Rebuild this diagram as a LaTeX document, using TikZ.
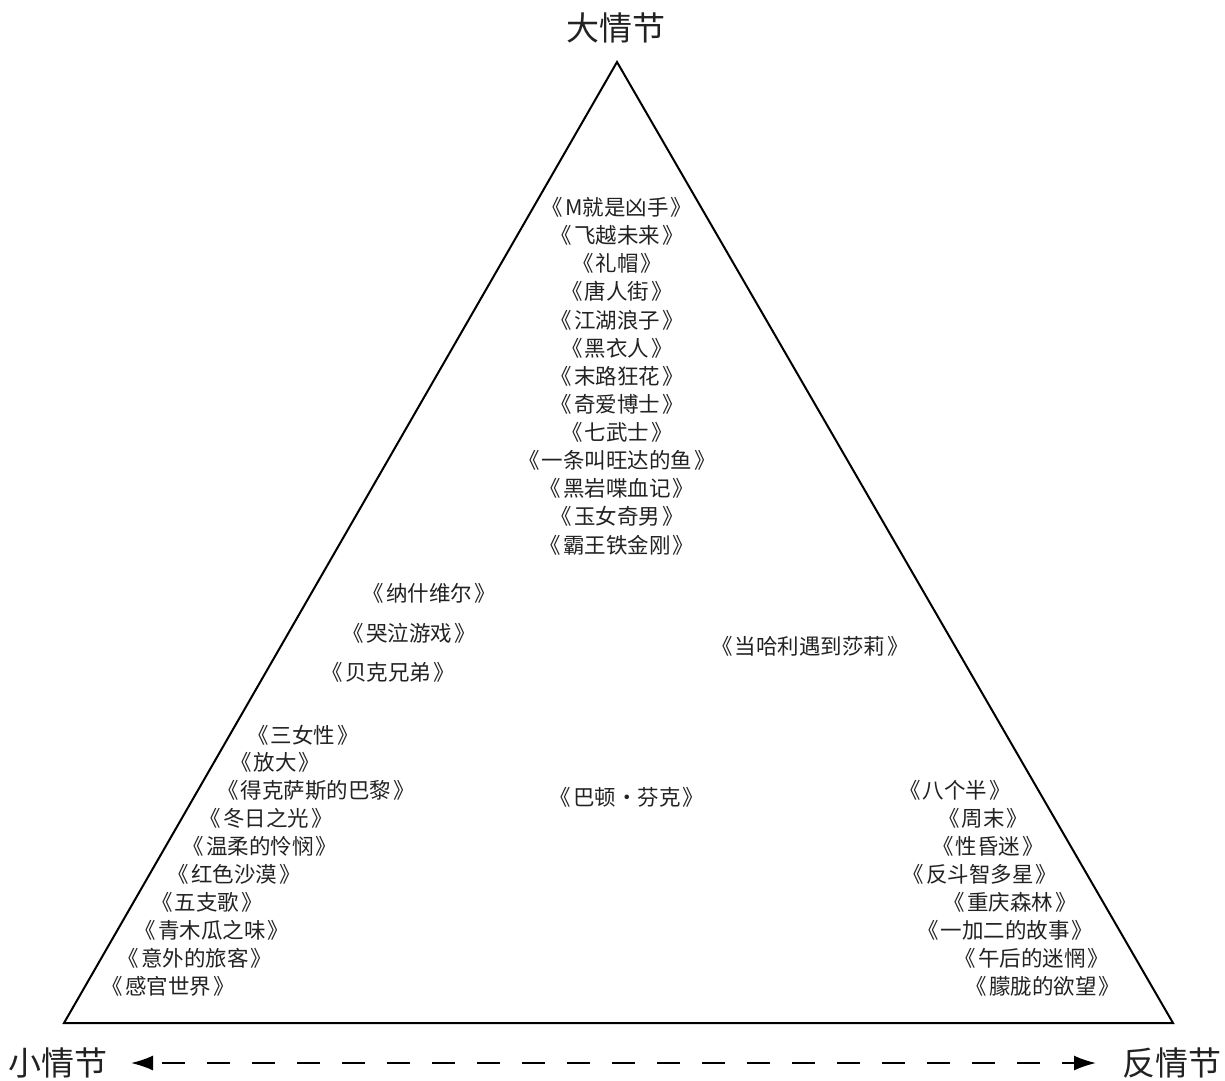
\documentclass[tikz,border=0pt]{standalone}
\usepackage{fontspec}
\newfontfamily\cjk{Noto Sans CJK SC}
\usetikzlibrary{arrows.meta}
\definecolor{ink}{HTML}{222222}
\newcommand{\fm}[1]{《\kern2pt#1\kern2pt》}
\begin{document}
\begin{tikzpicture}[x=1pt,y=-1pt,
  film/.style={font=\cjk\fontsize{21.5}{22}\selectfont, text=ink, inner sep=0pt},
  pole/.style={font=\cjk\fontsize{33}{35}\selectfont, text=ink, inner sep=0pt},
  edge/.style={line width=2pt, line join=miter}]
\useasboundingbox (0,0) rectangle (1225,1080);
% triangle corners
\coordinate (apex) at (617,62);
\coordinate (bl) at (64,1023);
\coordinate (br) at (1173,1023);
\draw[edge] (apex) -- (bl) -- (br) -- cycle;
% pole labels
\node[pole] (big) at (616,28) {大情节};
\node[pole] (small) at (58,1063) {小情节};
\node[pole] (anti) at (1172,1063) {反情节};
\coordinate (al) at (131,1063);
\coordinate (ar) at (1096,1063);
\draw[line width=1.8pt, dash pattern=on 23pt off 22pt, dash phase=-10pt,
  {Latex[length=22pt,width=15pt]}-{Latex[length=22pt,width=15pt]}] (al) -- (ar);
% top column
\node[film] (t1) at (617,207) {\fm{M就是凶手}};
\node[film] (t2) at (617,235) {\fm{飞越未来}};
\node[film] (t3) at (617,263) {\fm{礼帽}};
\node[film] (t4) at (617,291) {\fm{唐人街}};
\node[film] (t5) at (617,320) {\fm{江湖浪子}};
\node[film] (t6) at (617,348) {\fm{黑衣人}};
\node[film] (t7) at (617,376) {\fm{末路狂花}};
\node[film] (t8) at (617,404) {\fm{奇爱博士}};
\node[film] (t9) at (617,432) {\fm{七武士}};
\node[film] (t10) at (617,460) {\fm{一条叫旺达的鱼}};
\node[film] (t11) at (617,488) {\fm{黑岩喋血记}};
\node[film] (t12) at (617,516) {\fm{玉女奇男}};
\node[film] (t13) at (617,545) {\fm{霸王铁金刚}};
% middle
\node[film] (m1) at (429,593) {\fm{纳什维尔}};
\node[film] (m2) at (409,633) {\fm{哭泣游戏}};
\node[film] (m3) at (388,672) {\fm{贝克兄弟}};
\node[film] (m4) at (810,646) {\fm{当哈利遇到莎莉}};
\node[film] (m5) at (627,797) {\fm{巴顿·芬克}};
% lower left
\node[film] (l1) at (303,735) {\fm{三女性}};
\node[film] (l2) at (275,762) {\fm{放大}};
\node[film] (l3) at (316,790) {\fm{得克萨斯的巴黎}};
\node[film] (l4) at (266,818) {\fm{冬日之光}};
\node[film] (l5) at (260,846) {\fm{温柔的怜悯}};
\node[film] (l6) at (234,874) {\fm{红色沙漠}};
\node[film] (l7) at (207,902) {\fm{五支歌}};
\node[film] (l8) at (212,930) {\fm{青木瓜之味}};
\node[film] (l9) at (195,958) {\fm{意外的旅客}};
\node[film] (l10) at (168,986) {\fm{感官世界}};
% lower right
\node[film] (r1) at (955,790) {\fm{八个半}};
\node[film] (r2) at (983,818) {\fm{周末}};
\node[film] (r3) at (988,846) {\fm{性昏迷}};
\node[film] (r4) at (980,874) {\fm{反斗智多星}};
\node[film] (r5) at (1010,902) {\fm{重庆森林}};
\node[film] (r6) at (1005,930) {\fm{一加二的故事}};
\node[film] (r7) at (1032,958) {\fm{午后的迷惘}};
\node[film] (r8) at (1043,986) {\fm{朦胧的欲望}};
\end{tikzpicture}
\end{document}
